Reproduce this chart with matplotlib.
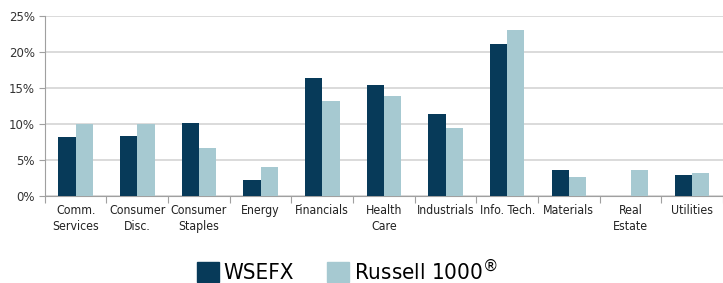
import matplotlib.pyplot as plt
import matplotlib
import numpy as np
from matplotlib.patches import Patch
from matplotlib.ticker import FuncFormatter, FixedLocator

matplotlib.rcParams['font.family'] = ['DejaVu Sans']

sectors = ['Comm.\nServices', 'Consumer\nDisc.', 'Consumer\nStaples', 'Energy',
           'Financials', 'Health\nCare', 'Industrials', 'Info. Tech.',
           'Materials', 'Real\nEstate', 'Utilities']
wsefx = [8.15, 8.3, 10.1, 2.27, 16.4, 15.4, 11.45, 21.1, 3.6, 0.0, 2.95]
russell = [9.95, 9.95, 6.67, 4.03, 13.25, 13.9, 9.4, 23.1, 2.65, 3.6, 3.2]

NAVY = '#073A59'
LIGHT = '#A6C9D1'
GRID = '#D4D4D4'

fig = plt.figure(figsize=(7.23, 2.83), dpi=100)
ax = fig.add_axes([0.062, 0.307, 0.938, 0.636])

x = np.arange(len(sectors))
w = 0.28
ax.bar(x - w / 2, wsefx, w, color=NAVY, zorder=3)
ax.bar(x + w / 2, russell, w, color=LIGHT, zorder=3)

ax.set_xlim(-0.5, len(sectors) - 0.5)
ax.set_ylim(0, 25)
ax.set_yticks(np.arange(0, 26, 5))
ax.yaxis.set_major_formatter(FuncFormatter(lambda v, p: f'{v:.0f}%'))
ax.grid(axis='y', color=GRID, linewidth=1.2, zorder=0)

# category labels centred, tick marks on the category boundaries
ax.xaxis.set_major_locator(FixedLocator(np.arange(-0.5, len(sectors), 1.0)))
ax.xaxis.set_minor_locator(FixedLocator(x))
ax.set_xticklabels([])
ax.set_xticklabels(sectors, minor=True, fontsize=8.8, linespacing=1.3,
                   fontstretch='condensed', color='#222222')
ax.tick_params(axis='x', which='major', length=5, color='#A0A0A0', direction='out')
ax.tick_params(axis='x', which='minor', length=0, pad=6)
ax.tick_params(axis='y', length=4, color='#A0A0A0', labelsize=8.5, pad=3,
               labelcolor='#333333')

for s in ['top', 'right']:
    ax.spines[s].set_visible(False)
ax.spines['left'].set_color('#A0A0A0')
ax.spines['bottom'].set_color('#A0A0A0')

handles = [Patch(color=NAVY, label='WSEFX'),
           Patch(color=LIGHT, label='Russell 1000$^{®}$')]
fig.legend(handles=handles, loc='center', bbox_to_anchor=(0.48, 0.045),
           ncol=2, frameon=False, prop=dict(size=16, stretch='condensed'),
           handlelength=1.0, handleheight=1.0, handletextpad=0.2,
           columnspacing=1.5)

fig.savefig('out.png', dpi=100)
